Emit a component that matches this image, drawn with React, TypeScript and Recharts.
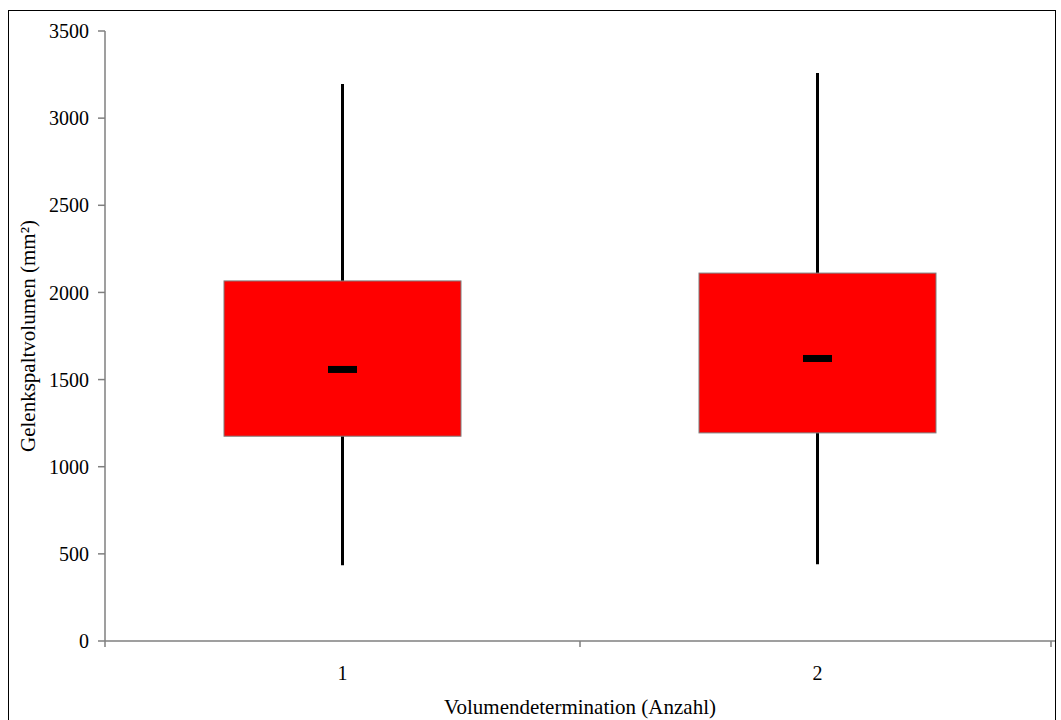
import { Bar, ComposedChart, XAxis, YAxis } from "recharts";

// Box plot: two determinations of joint-space volume.
const categories = [1, 2];
const whiskerLow = [435, 440];
const boxLow = [1175, 1194];
const medians = [1558, 1621];
const boxHigh = [2066, 2111];
const whiskerHigh = [3196, 3259];
const yTicks = [0, 500, 1000, 1500, 2000, 2500, 3000, 3500];

const FONT = '"Liberation Serif", "Times New Roman", serif';
const FS = 20;
const TITLE_FS = 21;

const data = categories.map((c, i) => ({
  cat: c,
  range: [whiskerLow[i], whiskerHigh[i]],
  q1: boxLow[i],
  med: medians[i],
  q3: boxHigh[i],
}));

// draws whisker + box + median inside the range bar's own pixel box
function BoxShape(props: any) {
  const { x, y, width, height, payload } = props;
  const [lo, hi] = payload.range;
  const top = Math.min(y, y + height);
  const bottom = Math.max(y, y + height);
  const k = (bottom - top) / (hi - lo);
  const py = (v: number) => bottom - (v - lo) * k;
  const cx = x + width / 2;
  return (
    <g>
      <line x1={cx} x2={cx} y1={top} y2={bottom} stroke="#000" strokeWidth={3} />
      <rect
        x={x}
        y={py(payload.q3)}
        width={width}
        height={py(payload.q1) - py(payload.q3)}
        fill="#ff0000"
        stroke="#7f7f7f"
        strokeWidth={1}
      />
      <rect x={cx - 14.5} y={py(payload.med) - 3.5} width={29} height={7} fill="#000" />
    </g>
  );
}

function XTick(props: any) {
  const { x, y, payload } = props;
  if (Number.isInteger(payload.value)) {
    return (
      <text x={x} y={y + 39} textAnchor="middle" fill="#000" fontSize={FS} fontFamily={FONT}>
        {payload.value}
      </text>
    );
  }
  return <line x1={x} x2={x} y1={y} y2={y + 6} stroke="#7f7f7f" strokeWidth={1.5} />;
}

export default function App() {
  return (
    <div style={{ position: "absolute", left: 0, top: 0, width: 1061, height: 720, background: "#fff", overflow: "hidden" }}>
      <div
        style={{
          position: "absolute",
          left: 8,
          top: 10,
          width: 1046,
          height: 720,
          border: "1.5px solid #000",
        }}
      />
      <div style={{ position: "absolute", left: 0, top: 0 }}>
        <ComposedChart width={1061} height={720} data={data} margin={{ top: 31, right: 6, bottom: 0, left: 0 }}>
          <XAxis
            dataKey="cat"
            type="number"
            domain={[0.5, 2.5]}
            ticks={[0.5, 1, 1.5, 2, 2.5]}
            tickLine={false}
            tickSize={0}
            tickMargin={0}
            tick={<XTick />}
            height={79}
            stroke="#7f7f7f"
            strokeWidth={1.5}
            label={{
              value: "Volumendetermination (Anzahl)",
              position: "insideBottom",
              offset: 6,
              fill: "#000",
              fontSize: TITLE_FS,
              fontFamily: FONT,
            }}
          />
          <YAxis
            domain={[0, 3500]}
            ticks={yTicks}
            width={105}
            tickSize={7}
            tickMargin={9}
            stroke="#7f7f7f"
            strokeWidth={1.5}
            tick={{ fill: "#000", fontSize: FS, fontFamily: FONT }}
            label={{
              value: "Gelenkspaltvolumen (mm²)",
              angle: -90,
              position: "insideLeft",
              offset: 28,
              fill: "#000",
              fontSize: TITLE_FS,
              fontFamily: FONT,
              style: { textAnchor: "middle" },
            }}
          />
          <Bar dataKey="range" barSize={237} shape={BoxShape} isAnimationActive={false} />
        </ComposedChart>
      </div>
    </div>
  );
}
